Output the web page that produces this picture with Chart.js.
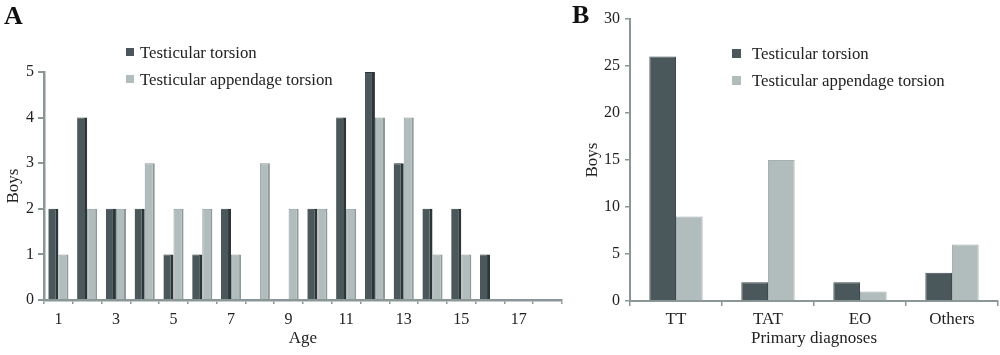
<!DOCTYPE html>
<html>
<head>
<meta charset="utf-8">
<script src="https://cdn.jsdelivr.net/npm/chart.js@4/dist/chart.umd.min.js"></script>
<style>
  html, body { margin: 0; padding: 0; background: #fff; }
  body { width: 1000px; height: 355px; position: relative; overflow: hidden; font-family: "Liberation Serif", serif; color: #222; }
  .panel { position: absolute; top: 0; }
  .tag { position: absolute; font-weight: bold; font-size: 26px; line-height: 26px; color: #111; }
  .leg { position: absolute; font-size: 16.8px; line-height: 20px; white-space: nowrap; color: #222; }
  .leg span.sw { display: inline-block; vertical-align: middle; position: relative; top: -2px; }
</style>
</head>
<body>
<div class="panel" style="left:0;width:566px;height:355px;"><canvas id="cA" width="566" height="355"></canvas></div>
<div class="panel" style="left:570px;width:430px;height:355px;"><canvas id="cB" width="430" height="355"></canvas></div>
<div class="tag" style="left:4px;top:3px;">A</div>
<div class="tag" style="left:572px;top:2px;">B</div>
<div id="legA"></div>
<div id="legB"></div>
<script>
// ---- Data ----
const seriesNames = ['Testicular torsion', 'Testicular appendage torsion'];
const ageLabels = ['1','2','3','4','5','6','7','8','9','10','11','12','13','14','15','16','17','18'];
const ageTT  = [2, 4, 2, 2, 1, 1, 2, 0, 0, 2, 4, 5, 3, 2, 2, 1, 0, 0];
const ageTAT = [1, 2, 2, 3, 2, 2, 1, 3, 2, 2, 2, 4, 4, 1, 1, 0, 0, 0];
const diagLabels = ['TT', 'TAT', 'EO', 'Others'];
const diagTT  = [26, 2, 2, 3];
const diagTAT = [9, 15, 1, 6];

// ---- Styles ----
const darkCol = '#4b585b';
const darkEdge = '#2c3537';
const lightCol = '#b1bdbc';
const lightEdge = '#8e9a9a';
const axisCol = '#8b9797';
const txtCol = '#222';
const fontFam = '"Liberation Serif", serif';

function legend(id, x, y, sw, gap) {
  const el = document.getElementById(id);
  const cols = [darkCol, lightCol];
  seriesNames.forEach((n, i) => {
    const d = document.createElement('div');
    d.className = 'leg';
    d.style.left = x + 'px';
    d.style.top = (y + i * 27) + 'px';
    d.innerHTML = '<span class="sw" style="width:' + sw + 'px;height:' + sw + 'px;margin-right:' + gap + 'px;background:' + cols[i] + '"></span>' + n;
    el.appendChild(d);
  });
}
legend('legA', 126, 43, 8, 6);
legend('legB', 732, 44, 9, 11);

Chart.defaults.font.family = fontFam;
Chart.defaults.color = txtCol;

// ---- Chart A ----
new Chart(document.getElementById('cA'), {
  type: 'bar',
  data: {
    labels: ageLabels,
    datasets: [
      { label: seriesNames[0], data: ageTT, backgroundColor: darkCol, borderColor: darkEdge,
        borderWidth: { top: 1, right: 3, left: 0, bottom: 0 }, borderSkipped: 'bottom',
        categoryPercentage: 0.7, barPercentage: 1 },
      { label: seriesNames[1], data: ageTAT, backgroundColor: lightCol, borderColor: lightEdge,
        borderWidth: { top: 1, right: 2, left: 1, bottom: 0 }, borderSkipped: 'bottom',
        categoryPercentage: 0.7, barPercentage: 1 }
    ]
  },
  options: {
    responsive: false,
    animation: false,
    layout: { padding: { top: 72, right: 4, left: 3, bottom: 0 } },
    plugins: { legend: { display: false }, tooltip: { enabled: false } },
    scales: {
      x: {
        grid: { display: true, offset: true, drawOnChartArea: false, color: axisCol, lineWidth: 1.5, tickLength: 4 },
        border: { color: axisCol, width: 2.5 },
        ticks: { autoSkip: false, maxRotation: 0, padding: 6, font: { size: 16 }, color: txtCol,
          callback: function (v, i) { return i % 2 === 0 ? this.getLabelForValue(v) : ''; } },
        title: { display: true, text: 'Age', font: { size: 17 }, color: txtCol, padding: { top: 2, bottom: 6 } },
        afterFit: s => { s.height = 55; }
      },
      y: {
        min: 0, max: 5,
        ticks: { stepSize: 1, padding: 4, font: { size: 16 }, color: txtCol },
        grid: { drawOnChartArea: false, color: axisCol, lineWidth: 2, tickLength: 6 },
        border: { color: axisCol, width: 2.5 },
        title: { display: true, text: 'Boys', font: { size: 17 }, color: txtCol, padding: { top: 0, bottom: 0 } },
        afterFit: s => { s.width = 41; }
      }
    }
  }
});

// ---- Chart B ----
new Chart(document.getElementById('cB'), {
  type: 'bar',
  data: {
    labels: diagLabels,
    datasets: [
      { label: seriesNames[0], data: diagTT, backgroundColor: darkCol, borderColor: '#3e4a4c',
        borderWidth: 1, borderSkipped: 'bottom', categoryPercentage: 0.58, barPercentage: 1 },
      { label: seriesNames[1], data: diagTAT, backgroundColor: lightCol, borderColor: '#a5b1b0',
        borderWidth: 1, borderSkipped: 'bottom', categoryPercentage: 0.58, barPercentage: 1 }
    ]
  },
  options: {
    responsive: false,
    animation: false,
    layout: { padding: { top: 19, right: 2, left: 12, bottom: 0 } },
    plugins: { legend: { display: false }, tooltip: { enabled: false } },
    scales: {
      x: {
        grid: { display: true, offset: true, drawOnChartArea: false, color: axisCol, lineWidth: 1.5, tickLength: 5 },
        border: { color: axisCol, width: 2 },
        ticks: { maxRotation: 0, padding: 3, font: { size: 17 }, color: txtCol },
        title: { display: true, text: 'Primary diagnoses', font: { size: 17 }, color: txtCol, padding: { top: 2, bottom: 6 } },
        afterFit: s => { s.height = 54; }
      },
      y: {
        min: 0, max: 30,
        ticks: { stepSize: 5, padding: 5, font: { size: 16 }, color: txtCol },
        grid: { drawOnChartArea: false, color: axisCol, lineWidth: 1.5, tickLength: 5 },
        border: { color: axisCol, width: 2 },
        title: { display: true, text: 'Boys', font: { size: 17 }, color: txtCol, padding: { top: 0, bottom: 0 } },
        afterFit: s => { s.width = 48; }
      }
    }
  }
});
</script>
</body>
</html>
